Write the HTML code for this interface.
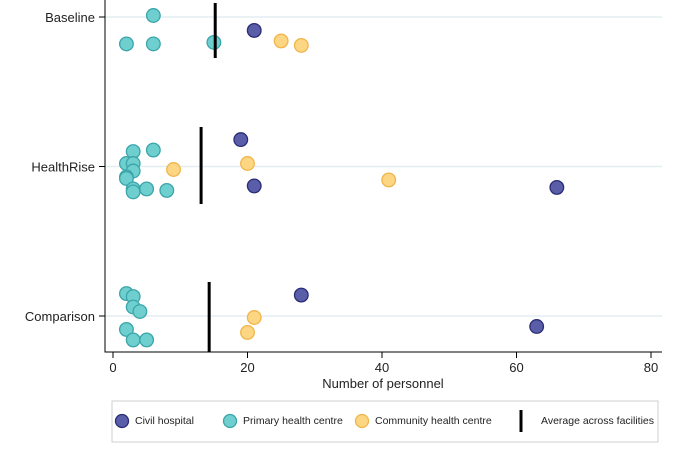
<!DOCTYPE html>
<html><head><meta charset="utf-8"><style>
body{margin:0;background:#fff;font-family:"Liberation Sans",Arial,sans-serif}
svg text{font-family:"Liberation Sans",Arial,sans-serif;fill:#222}
</style></head><body>
<svg id="c" width="675" height="454"></svg>
<script>
const groups=["Baseline","HealthRise","Comparison"];
const civilX=[21,19,21,66,28,63];
const civilG=[0.09,0.82,1.13,1.14,1.86,2.07];
const phcX=[6,2,6,15,6,3,2,3,3,2,2,3,3,5,8,2,3,3,4,2,3,5];
const phcG=[-0.01,0.18,0.18,0.17,0.89,0.9,0.98,0.98,1.03,1.07,1.08,1.15,1.17,1.15,1.16,1.85,1.87,1.94,1.97,2.09,2.16,2.16];
const chcX=[25,28,20,9,41,21,20];
const chcG=[0.16,0.19,0.98,1.02,1.09,2.01,2.11];
const avgX=[15.2,13.1,14.3];
const xTicks=[0,20,40,60,80];
const S="http://www.w3.org/2000/svg",svg=document.getElementById('c');
const X=v=>113+v*6.725, Y=g=>17+g*149.5;
function el(t,a,txt){const e=document.createElementNS(S,t);for(const k in a)e.setAttribute(k,a[k]);if(txt!=null)e.textContent=txt;svg.appendChild(e);return e;}
groups.forEach((g,i)=>{
 let l=el('line',{x1:105,x2:662,y1:Y(i),y2:Y(i),stroke:'#e3eef2','stroke-width':1.5});
 
 let tk=el('line',{x1:99,x2:105,y1:Y(i),y2:Y(i),stroke:'#000'});
 
 let t=el('text',{x:95,y:Y(i)+5,'text-anchor':'end','font-size':13},g);
 
});
let ax=el('path',{d:'M105,0V352H662',fill:'none',stroke:'#000','stroke-width':1});

xTicks.forEach(v=>{
 let tk=el('line',{x1:X(v),x2:X(v),y1:352,y2:358,stroke:'#000'});
 
 let t=el('text',{x:X(v),y:372,'text-anchor':'middle','font-size':13},v);
 
});
let xt=el('text',{x:383,y:388,'text-anchor':'middle','font-size':13},'Number of personnel');

function pts(xs,gs,fill,stroke,name){xs.forEach((v,i)=>{
 let c=el('circle',{cx:X(v),cy:Y(gs[i]),r:6.8,fill:fill,stroke:stroke,'stroke-width':1.3});
 });}
pts(phcX,phcG,'#6fcfcf','#3aa5aa','point-primary-health-centre');
pts(chcX,chcG,'#fdd683','#f0b54a','point-community-health-centre');
pts(civilX,civilG,'#5a5ea8','#2a2d75','point-civil-hospital');
const avgSpan=[[3,58],[127,204],[282,352]];
avgX.forEach((v,i)=>{
 let l=el('line',{x1:X(v),x2:X(v),y1:avgSpan[i][0],y2:avgSpan[i][1],stroke:'#000','stroke-width':3});
 
});
let lb=el('rect',{x:112,y:401,width:546,height:41,fill:'#fff',stroke:'#cfcfcf'});

const leg=[[122,'#5a5ea8','#2a2d75','Civil hospital'],[230,'#6fcfcf','#3aa5aa','Primary health centre'],[362,'#fdd683','#f0b54a','Community health centre']];
leg.forEach(d=>{
 let c=el('circle',{cx:d[0],cy:421,r:6.5,fill:d[1],stroke:d[2],'stroke-width':1.3});
 
 let t=el('text',{x:d[0]+13,y:424,'font-size':10.5},d[3]);
 
});
let ll=el('line',{x1:521,x2:521,y1:410,y2:432,stroke:'#000','stroke-width':3});

let lt=el('text',{x:541,y:424,'font-size':10.5},'Average across facilities');

</script>
</body></html>
